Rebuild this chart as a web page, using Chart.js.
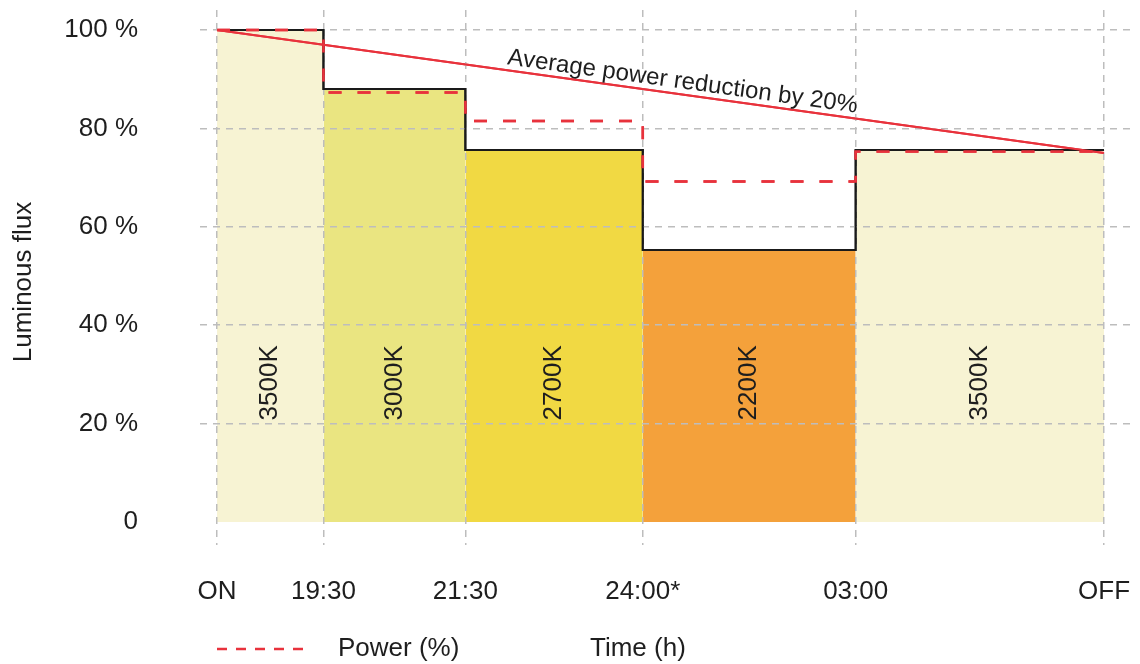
<!DOCTYPE html>
<html>
<head>
<meta charset="utf-8">
<script src="https://cdn.jsdelivr.net/npm/chart.js@4"></script>
<style>
html, body { margin: 0; padding: 0; background: #fff; }
#wrap { width: 1140px; height: 664px; }
</style>
</head>
<body>
<div id="wrap"><canvas id="myChart"></canvas></div>
<script>
// hours since midnight (ON ~ 18:00, OFF ~ 06:30 next day)
const times = [18, 19.5, 21.5, 24, 27, 30.5]
const timeLabels = ['ON', '19:30', '21:30', '24:00*', '03:00', 'OFF']
const fluxValues = [100, 88, 75.6, 55.3, 75.6]
const powerValues = [100, 87.3, 81.5, 69.2, 75.3]
const cctLabels = ['3500K', '3000K', '2700K', '2200K', '3500K']
const cctColors = ['#f7f3d3', '#eae581', '#f1d943', '#f4a13b', '#f7f3d3']
const averageValues = [100, 75]
const yTicks = [0, 20, 40, 60, 80, 100]

const FONT = '"Liberation Sans", Arial, sans-serif'
const TEXT = '#1e1e1e'
const GRID = '#bdbdbd'

function stepPoints(values) {
    const pts = values.map((v, i) => ({x: times[i], y: v}))
    pts.push({x: times[times.length - 1], y: values[values.length - 1]})
    return pts
}

const fillSets = cctLabels.map((label, i) => ({
    type: 'line',
    label: label,
    data: [{x: times[i], y: fluxValues[i]}, {x: times[i + 1], y: fluxValues[i]}],
    fill: 'origin',
    backgroundColor: cctColors[i],
    borderWidth: 0,
    pointRadius: 0,
    order: 10
}))

const lineSets = [{
    type: 'line',
    label: 'Luminous flux',
    data: stepPoints(fluxValues),
    stepped: 'before',
    borderColor: '#1a1a1a',
    borderWidth: 2,
    pointRadius: 0,
    fill: false,
    order: 3,
    redraw: true
}, {
    type: 'line',
    label: 'Power (%)',
    data: stepPoints(powerValues),
    stepped: 'before',
    borderColor: '#e8323c',
    borderWidth: 2.5,
    borderDash: [13, 16],
    pointRadius: 0,
    fill: false,
    order: 2,
    redraw: true
}, {
    type: 'line',
    label: 'Average',
    data: [{x: times[0], y: averageValues[0]}, {x: times[times.length - 1], y: averageValues[1]}],
    borderColor: '#e8323c',
    borderWidth: 2,
    pointRadius: 0,
    fill: false,
    order: 1,
    redraw: true
}]

const annotate = {
    id: 'annotate',
    afterDraw(chart) {
        const ctx = chart.ctx
        const xs = chart.scales.x, ys = chart.scales.y

        // lines back on top of the grid
        chart.data.datasets.forEach((ds, i) => {
            if (ds.redraw) chart.getDatasetMeta(i).controller.draw()
        })

        ctx.save()
        ctx.fillStyle = TEXT
        ctx.font = '26px ' + FONT
        ctx.textAlign = 'center'
        ctx.textBaseline = 'middle'
        cctLabels.forEach((label, i) => {
            const cx = xs.getPixelForValue((times[i] + times[i + 1]) / 2)
            const cy = ys.getPixelForValue(28.3)
            ctx.save()
            ctx.translate(cx, cy)
            ctx.rotate(-Math.PI / 2)
            ctx.fillText(label, 0, 0)
            ctx.restore()
        })

        // text along the average line
        const x0 = xs.getPixelForValue(times[0]), y0 = ys.getPixelForValue(averageValues[0])
        const x1 = xs.getPixelForValue(times[times.length - 1]), y1 = ys.getPixelForValue(averageValues[1])
        const f = 0.523
        ctx.save()
        ctx.translate(x0 + (x1 - x0) * f, y0 + (y1 - y0) * f)
        ctx.rotate(Math.atan2(y1 - y0, x1 - x0))
        ctx.font = '24px ' + FONT
        ctx.textBaseline = 'alphabetic'
        ctx.fillText('Average power reduction by 20%', 0, -6)
        ctx.restore()

        // y title
        ctx.save()
        ctx.translate(24, 282)
        ctx.rotate(-Math.PI / 2)
        ctx.font = '26px ' + FONT
        ctx.fillText('Luminous flux', 0, 0)
        ctx.restore()

        // bottom legend
        ctx.save()
        ctx.strokeStyle = '#e8323c'
        ctx.lineWidth = 2.5
        ctx.setLineDash([10, 9])
        ctx.beginPath()
        ctx.moveTo(217, 649)
        ctx.lineTo(307, 649)
        ctx.stroke()
        ctx.restore()
        ctx.textAlign = 'left'
        ctx.font = '26px ' + FONT
        ctx.fillText('Power (%)', 338, 649)
        ctx.fillText('Time (h)', 590, 649)
        ctx.restore()
    }
}

function drawChart() {
    const ctx = document.getElementById('myChart')
    new Chart(ctx, {
        type: 'line',
        data: {datasets: fillSets.concat(lineSets)},
        options: {
            responsive: true,
            maintainAspectRatio: false,
            animation: false,
            layout: {padding: {top: 10, right: 10, left: 0, bottom: 0}},
            plugins: {legend: {display: false}, tooltip: {enabled: false}},
            scales: {
                x: {
                    type: 'linear',
                    min: 17.76,
                    max: 30.866,
                    afterBuildTicks: s => { s.ticks = times.map(v => ({value: v})) },
                    afterFit: s => {
                        s.height = 119
                        s.paddingLeft = 0
                        s.paddingRight = 0
                    },
                    ticks: {
                        autoSkip: false,
                        maxRotation: 0,
                        padding: 31,
                        color: TEXT,
                        font: {family: FONT, size: 26},
                        callback: (v, i) => timeLabels[i]
                    },
                    grid: {color: GRID, lineWidth: 1.5, drawTicks: false, z: 1},
                    border: {display: false, dash: [7, 6]}
                },
                y: {
                    min: -4.67,
                    max: 104.07,
                    afterBuildTicks: s => { s.ticks = yTicks.map(v => ({value: v})) },
                    afterFit: s => {
                        s.width = 200
                        s.paddingTop = 0
                        s.paddingBottom = 0
                    },
                    ticks: {
                        padding: 62,
                        color: TEXT,
                        font: {family: FONT, size: 26},
                        callback: v => v === 0 ? '0' : v + ' %'
                    },
                    grid: {
                        color: c => (c.tick && c.tick.value === 0) ? 'rgba(0,0,0,0)' : GRID,
                        lineWidth: 1.5,
                        drawTicks: false,
                        z: 1
                    },
                    border: {display: false, dash: [7, 6]}
                }
            }
        },
        plugins: [annotate]
    })
}

document.addEventListener('DOMContentLoaded', drawChart)
</script>
</body>
</html>
